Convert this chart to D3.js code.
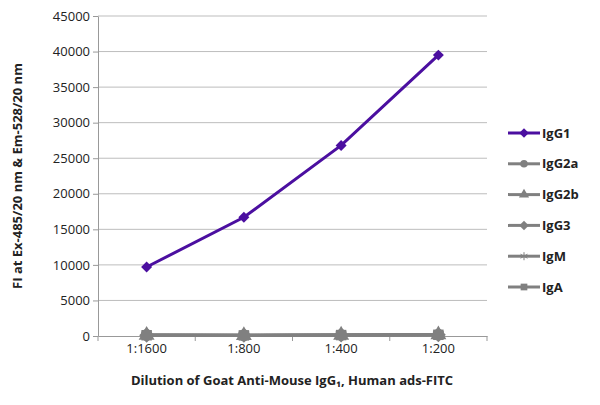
<!DOCTYPE html>
<html><head><meta charset="utf-8">
<script src="https://cdn.jsdelivr.net/npm/d3@7"></script>
<style>body{margin:0;background:#fff}text{font-family:"Open Sans",sans-serif}</style>
</head><body><svg id="c" width="600" height="405"></svg>
<script>
const categories = ['1:1600', '1:800', '1:400', '1:200'];
const seriesNames = ['IgG1', 'IgG2a', 'IgG2b', 'IgG3', 'IgM', 'IgA'];
const igg1 = [9700, 16700, 26800, 39500];
const igg2a = [150, 100, 150, 200];
const igg2b = [120, 90, 130, 180];
const igg3 = [100, 80, 120, 160];
const igm = [130, 100, 140, 190];
const iga = [110, 90, 130, 170];
const yTicks = d3.range(0, 45001, 5000);

const allSeries = [igg1, igg2a, igg2b, igg3, igm, iga];
const colors = ['#4b0fa0', '#808080', '#808080', '#808080', '#808080', '#808080'];
// diamonds drawn as rotated squares
const symbols = [d3.symbolSquare, d3.symbolCircle, d3.symbolTriangle, d3.symbolSquare, d3.symbolAsterisk, d3.symbolSquare];
const rot = [45, 0, 0, 45, 0, 0];

const svg = d3.select('#c');
const x = d3.scaleBand().domain(categories).range([98, 487]);
const y = d3.scaleLinear().domain([0, 45000]).range([336, 16]);

svg.append('g').selectAll('line').data(yTicks.slice(1)).join('line')
  .attr('x1', 98).attr('x2', 487).attr('y1', d => y(d)).attr('y2', d => y(d))
  .attr('stroke', '#bdbdbd').attr('stroke-width', 1);

const ya = svg.append('g').attr('transform', 'translate(98,0)')
  .call(d3.axisLeft(y).tickValues(yTicks).tickSize(5).tickSizeOuter(0).tickFormat(d3.format('d')));
ya.select('.domain').attr('stroke', '#999');
ya.selectAll('.tick line').attr('stroke', '#999');
ya.selectAll('text').attr('font-size', 13).attr('fill', '#222');

const xa = svg.append('g').attr('transform', 'translate(0,336)')
  .call(d3.axisBottom(x).tickSize(0));
xa.select('.domain').attr('stroke', '#999');
xa.selectAll('text').attr('font-size', 13).attr('fill', '#222').attr('dy', '1.1em');
svg.append('g').selectAll('line').data(categories.concat(['end'])).join('line')
  .attr('x1', (d, i) => 98 + i * x.bandwidth()).attr('x2', (d, i) => 98 + i * x.bandwidth())
  .attr('y1', 336).attr('y2', 341).attr('stroke', '#999');

const line = d3.line().x((d, i) => x(categories[i]) + x.bandwidth() / 2).y(d => y(d));
for (let s = allSeries.length - 1; s >= 0; s--) {
  svg.append('path').datum(allSeries[s]).attr('d', line)
    .attr('fill', 'none').attr('stroke', colors[s]).attr('stroke-width', 3);
  svg.append('g').selectAll('path').data(allSeries[s]).join('path')
    .attr('transform', (d, i) => `translate(${x(categories[i]) + x.bandwidth() / 2},${y(d)}) rotate(${rot[s]})`)
    .attr('d', d3.symbol(symbols[s], s === 0 ? 60 : 110))
    .attr('fill', colors[s]).attr('stroke', s === 4 ? colors[s] : 'none');
}

const lg = svg.append('g').selectAll('g').data(seriesNames).join('g')
  .attr('transform', (d, i) => `translate(508,${133 + i * 30.8})`);
lg.append('line').attr('x1', 0).attr('x2', 32).attr('stroke', (d, i) => colors[i]).attr('stroke-width', 3);
lg.append('path').attr('transform', (d, i) => `translate(16,0) rotate(${rot[i]})`)
  .attr('d', (d, i) => d3.symbol(symbols[i], 45)()).attr('fill', (d, i) => colors[i])
  .attr('stroke', (d, i) => i === 4 ? colors[i] : 'none');
lg.append('text').attr('x', 34).attr('dy', '0.35em').attr('font-size', 13).attr('font-weight', 'bold')
  .attr('fill', '#222').text(d => d);

svg.append('text').attr('x', 292).attr('y', 385).attr('text-anchor', 'middle')
  .attr('font-size', 13).attr('font-weight', 'bold').attr('fill', '#222')
  .text('Dilution of Goat Anti-Mouse IgG₁, Human ads-FITC');
svg.append('text').attr('transform', 'translate(22,176) rotate(-90)').attr('text-anchor', 'middle')
  .attr('font-size', 13).attr('font-weight', 'bold').attr('fill', '#222')
  .text('FI at Ex-485/20 nm & Em-528/20 nm');
</script></body></html>
